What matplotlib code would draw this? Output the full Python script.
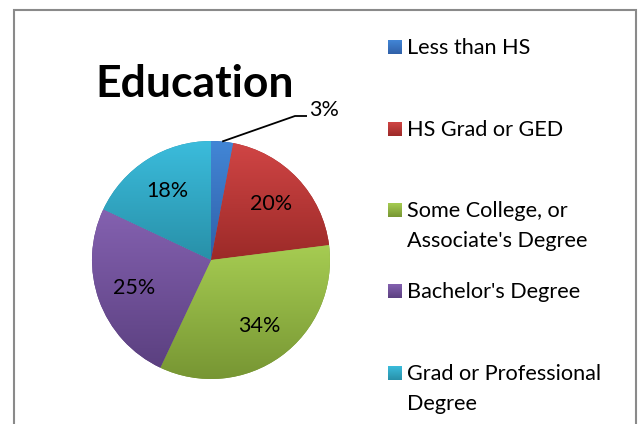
import matplotlib
matplotlib.use('Agg')
import matplotlib.pyplot as plt
import matplotlib.patches as patches
from matplotlib.colors import LinearSegmentedColormap
import numpy as np

# data
categories = ['Less than HS', 'HS Grad or GED', "Some College, or\nAssociate's Degree",
              "Bachelor's Degree", 'Grad or Professional\nDegree']
shares = [3, 20, 34, 25, 18]

# Excel 2007 style gradients (top, bottom)
grads = [('#4286d6', '#3060a8'),
         ('#d04545', '#9c2a28'),
         ('#a6cc52', '#779633'),
         ('#8461b0', '#5b4080'),
         ('#3bbcdc', '#2890a8')]

W, H = 639, 424
FONT = ['Lato', 'DejaVu Sans']


def Y(py):
    return H - py


def gradient_fill(ax, clip, x0, x1, y0, y1, top, bottom, zorder=2):
    cmap = LinearSegmentedColormap.from_list('g', [bottom, top])
    g = np.linspace(0, 1, 256).reshape(-1, 1)
    im = ax.imshow(g, cmap=cmap, extent=[x0, x1, y0, y1], origin='lower',
                   aspect='auto', interpolation='bicubic', zorder=zorder)
    if clip is not None:
        im.set_clip_path(clip)
    return im


fig = plt.figure(figsize=(W / 100, H / 100), dpi=100)
ax = fig.add_axes([0, 0, 1, 1])

cx, cy, r = 211, Y(260), 119
wedges, texts, autotexts = ax.pie(
    shares, center=(cx, cy), radius=r, startangle=90, counterclock=False,
    colors=[g[0] for g in grads], autopct='%1.0f%%', pctdistance=0.69,
    wedgeprops=dict(linewidth=0), frame=True,
    textprops=dict(fontsize=15.5, family=FONT, color='black'))

# gradient per slice
for w, (top, bot) in zip(wedges, grads):
    ext = w.get_path().get_extents()
    w.set_facecolor(bot)
    gradient_fill(ax, w, ext.x0, ext.x1, ext.y0, ext.y1, top, bot, zorder=2)

for t in autotexts:
    t.set_zorder(5)

# small slice label outside with leader line
w0 = wedges[0]
th = np.deg2rad((w0.theta1 + w0.theta2) / 2)
sx, sy = cx + r * np.cos(th), cy + r * np.sin(th)
ax.plot([sx, 295, 307], [sy, Y(116), Y(116)], color='black', lw=1.3, zorder=4,
        solid_capstyle='butt')
autotexts[0].set_position((309, Y(116)))
autotexts[0].set_ha('left')
autotexts[0].set_va('baseline')

# title
ax.text(95, Y(97), 'Education', fontsize=32, fontweight='bold', family=FONT,
        ha='left', va='baseline', zorder=5)

# legend
bases = [54, 136, 217, 298, 380]
for lab, (top, bot), b in zip(categories, grads, bases):
    gradient_fill(ax, None, 388, 402, Y(b), Y(b - 14), top, bot, zorder=3)
    for k, line in enumerate(lab.split('\n')):
        ax.text(407, Y(b + 30 * k), line, fontsize=15.6, family=FONT,
                ha='left', va='baseline', zorder=5)

# chart border
ax.add_patch(patches.Rectangle((14, -20), 622, Y(9.5) + 20, fill=False,
                               edgecolor='#8a8a8a', lw=1.5, zorder=6))

ax.set_xlim(0, W)
ax.set_ylim(0, H)
ax.set_aspect('auto')
ax.axis('off')

fig.savefig('out.png', dpi=100, facecolor='white')
